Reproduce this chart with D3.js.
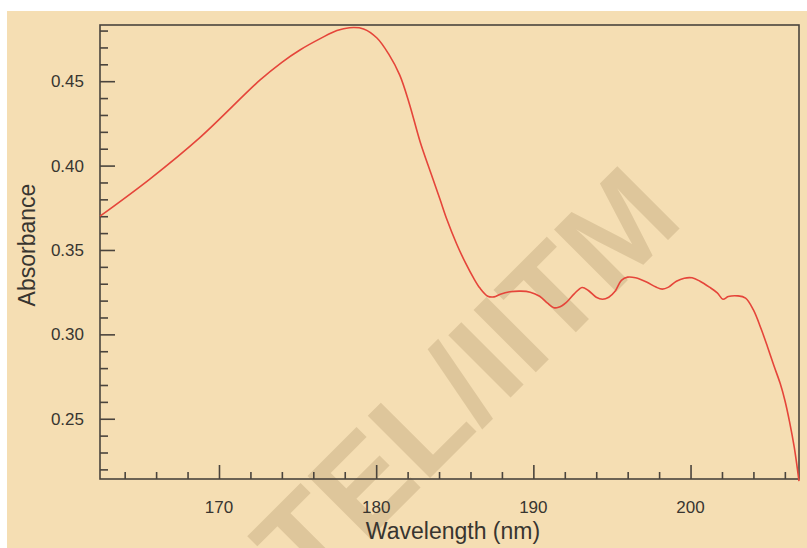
<!DOCTYPE html>
<html>
<head>
<meta charset="utf-8">
<script src="https://cdn.jsdelivr.net/npm/d3@7"></script>
<style>
  html, body { margin: 0; padding: 0; background: #fff; }
  svg { display: block; }
</style>
</head>
<body>
<svg id="chart" width="807" height="548"></svg>
<script>
// Absorbance spectrum, values
const wavelength = [162.43, 165.6, 168.8, 172.6, 174, 175.15, 176.5, 177.5, 178.3, 179.2, 180.05, 180.8,
  181.5, 182.1, 182.8, 183.5, 184.06, 184.5, 185.1, 185.7, 186.2, 186.6, 187.1, 187.5, 187.9, 188.5,
  189.2, 189.8, 190.4, 190.9, 191.3, 191.6, 192.1, 192.6, 193.1, 193.5, 194.0, 194.4, 194.8, 195.2,
  195.6, 196.0, 196.5, 197.2, 197.8, 198.2, 198.6, 199.1, 199.6, 200.1, 200.6, 201.2, 201.7, 202.06,
  202.4, 203.0, 203.5, 204.0, 204.5, 204.9, 205.3, 205.7, 206.0, 206.3, 206.6, 206.9];
const absorbance = [0.370, 0.392, 0.4167, 0.4506, 0.4612, 0.4685, 0.4755, 0.4800, 0.4817, 0.4810, 0.4756, 0.466,
  0.4536, 0.437, 0.414, 0.395, 0.380, 0.368, 0.354, 0.342, 0.3333, 0.3274, 0.3226, 0.3222, 0.3238, 0.3252,
  0.3256, 0.3250, 0.3226, 0.3185, 0.3158, 0.3160, 0.3190, 0.3240, 0.3278, 0.3260, 0.3220, 0.3208, 0.3220, 0.3255,
  0.3320, 0.3339, 0.3335, 0.3310, 0.3280, 0.3268, 0.3280, 0.3315, 0.3333, 0.3335, 0.3315, 0.3280, 0.3246, 0.3208,
  0.3224, 0.3228, 0.3215, 0.3145, 0.3030, 0.2925, 0.2815, 0.271, 0.261, 0.2482, 0.233, 0.2131];

const xMajor = [170, 180, 190, 200];
const yMajor = [0.25, 0.30, 0.35, 0.40, 0.45];

const svg = d3.select("#chart");
const W = 807, H = 548;
const plot = { left: 100, top: 25, right: 799, bottom: 479 };
const axisCol = "#4a443d", textCol = "#383530";
const font = "Liberation Sans, Arial, sans-serif";

// background panel
svg.append("rect")
  .attr("x", 7).attr("y", 11).attr("width", W - 7).attr("height", H - 11)
  .attr("fill", "#f5deb3");

const x = d3.scaleLinear().domain([162.43, 206.9]).range([plot.left, plot.right]);
const y = d3.scaleLinear().domain([0.2143, 0.4833]).range([plot.bottom, plot.top]);

// watermark
svg.append("text")
  .attr("transform", "translate(497,411) rotate(-45)")
  .attr("text-anchor", "middle")
  .attr("font-family", font)
  .attr("font-weight", "700")
  .attr("font-size", 128)
  .attr("fill", "#dec69b")
  .text("TEL/IITM");

// frame
svg.append("rect")
  .attr("x", plot.left).attr("y", plot.top)
  .attr("width", plot.right - plot.left).attr("height", plot.bottom - plot.top)
  .attr("fill", "none").attr("stroke", axisCol).attr("stroke-width", 1.6);

// minor ticks
const xMinor = d3.range(164, 207, 2).filter(v => !xMajor.includes(v));
const yMinor = d3.range(22, 49).map(v => v / 100).filter(v => !yMajor.some(m => Math.abs(m - v) < 1e-9));

svg.append("g").attr("transform", `translate(0,${plot.bottom})`)
  .call(d3.axisTop(x).tickValues(xMinor).tickSize(7).tickFormat(""));
svg.append("g").attr("transform", `translate(0,${plot.bottom})`)
  .call(d3.axisTop(x).tickValues(xMajor).tickSize(14).tickFormat(""));

svg.append("g").attr("transform", `translate(${plot.left},0)`)
  .call(d3.axisRight(y).tickValues(yMinor).tickSize(8).tickFormat(""));
svg.append("g").attr("transform", `translate(${plot.left},0)`)
  .call(d3.axisRight(y).tickValues(yMajor).tickSize(15).tickFormat(""));

svg.selectAll(".domain").remove();
svg.selectAll(".tick line").attr("stroke", axisCol).attr("stroke-width", 1.6);

// tick labels
svg.append("g").selectAll("text")
  .data(xMajor).join("text")
  .attr("x", d => x(d)).attr("y", 513)
  .attr("text-anchor", "middle")
  .attr("font-family", font)
  .attr("font-size", 17).attr("fill", textCol)
  .text(d => d);

svg.append("g").selectAll("text")
  .data(yMajor).join("text")
  .attr("x", 84).attr("y", d => y(d) + 6)
  .attr("text-anchor", "end")
  .attr("font-family", font)
  .attr("font-size", 17).attr("fill", textCol)
  .text(d => d.toFixed(2));

// axis titles
svg.append("text")
  .attr("x", 453).attr("y", 539)
  .attr("text-anchor", "middle")
  .attr("font-family", font)
  .attr("font-size", 23).attr("fill", textCol)
  .text("Wavelength (nm)");

svg.append("text")
  .attr("transform", "translate(35,245) rotate(-90)")
  .attr("text-anchor", "middle")
  .attr("font-family", font)
  .attr("font-size", 23).attr("fill", textCol)
  .text("Absorbance");

// spectrum
const data = wavelength.map((w, i) => [w, absorbance[i]]);
svg.append("path")
  .datum(data)
  .attr("d", d3.line().x(d => x(d[0])).y(d => y(d[1])).curve(d3.curveCatmullRom.alpha(0.5)))
  .attr("fill", "none")
  .attr("stroke", "#e5453a")
  .attr("stroke-width", 1.6);
</script>
</body>
</html>
